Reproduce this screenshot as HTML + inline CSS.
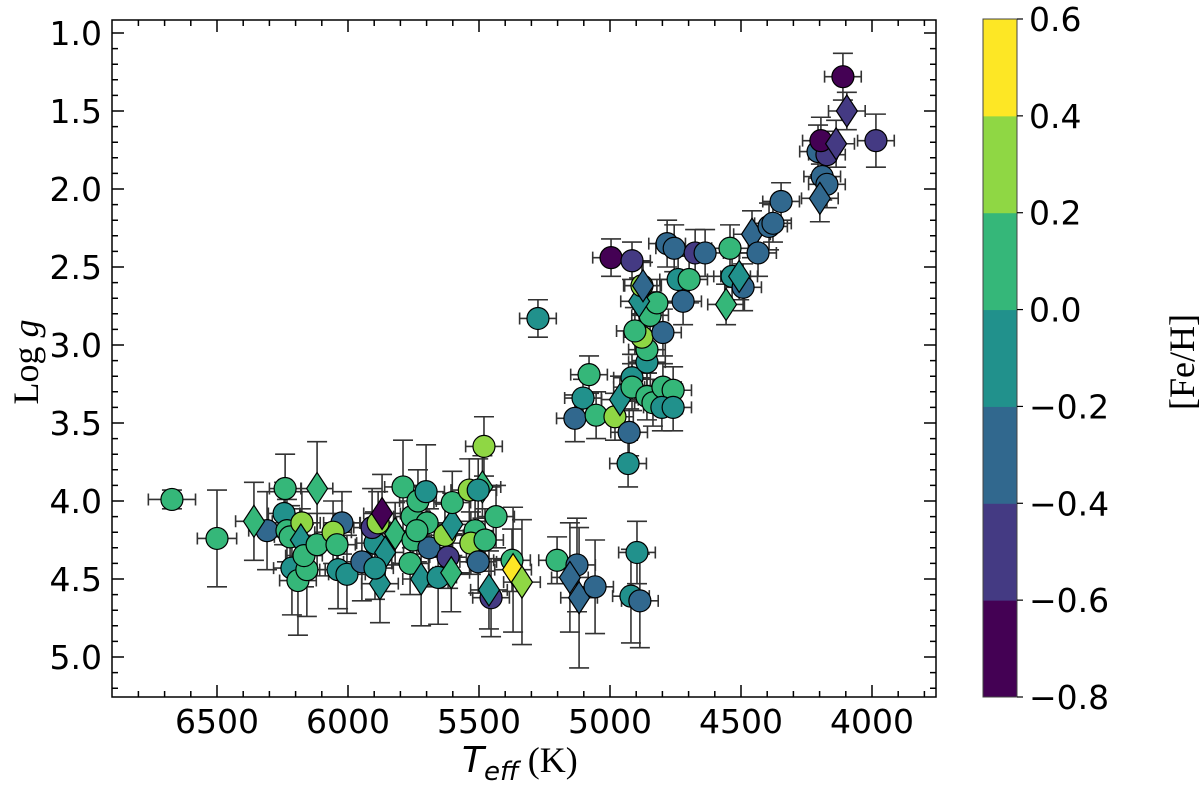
<!DOCTYPE html>
<html><head><meta charset="utf-8"><style>
html,body{margin:0;padding:0;background:#fff;width:1200px;height:785px;overflow:hidden}
svg{display:block}
text{font-family:"DejaVu Sans","Liberation Sans",sans-serif}
</style></head><body>
<svg id="chart" width="1200" height="785" viewBox="0 0 1200 785" xmlns="http://www.w3.org/2000/svg">
<g id="errs"></g>
<g id="marks"></g>
<g id="axes"></g>
<g id="cbar"></g>
<text transform="translate(38,362) rotate(-90)" text-anchor="middle" font-size="36" style="font-family:'Liberation Serif','DejaVu Serif',serif">Log <tspan font-style="italic">g</tspan></text>
<text x="462" y="772" font-size="36"><tspan font-style="italic">T</tspan><tspan font-style="italic" font-size="26" dy="8">eff</tspan><tspan dy="-8" style="font-family:'Liberation Serif','DejaVu Serif',serif"> (K)</tspan></text>
<text transform="translate(1194,362) rotate(-90)" text-anchor="middle" font-size="36" style="font-family:'Liberation Serif','DejaVu Serif',serif">[Fe/H]</text>
</svg>
<script>
const teff=[6672,6500,6309,6359,6240,6244,6233,6221,6176,6214,6191,6157,6180,6168,6118,6118,6023,6057,6042,6038,6004,5947,5897,5908,5885,5870,5858,5878,5897,5820,5790,5756,5733,5702,5752,5763,5698,5691,5737,5630,5618,5721,5656,5606,5602,5602,5537,5487,5503,5481,5435,5515,5531,5477,5503,5454,5462,5374,5370,5336,5202,5275,4996,4916,5080,5103,5134,5053,4981,4962,4927,4931,4916,4916,4859,4836,4798,4759,4802,4759,4859,4859,4878,4905,4798,4847,4821,4889,4878,4874,4721,4740,4698,4782,4755,4675,4637,4542,4458,4393,4435,4534,4492,4507,4557,5126,5153,5118,5057,4897,4920,4886,4111,4096,3985,4206,4172,4195,4137,4190,4172,4199,4347,4378];
const logg=[3.99,4.24,4.19,4.13,3.92,4.08,4.19,4.23,4.14,4.43,4.51,4.44,4.25,4.35,4.28,3.92,4.14,4.20,4.28,4.44,4.47,4.39,4.27,4.17,4.14,4.08,4.33,4.53,4.43,4.21,3.91,4.10,4.00,3.94,4.25,4.40,4.14,4.30,4.19,4.22,4.36,4.50,4.49,4.46,4.15,4.01,3.93,3.91,3.93,3.65,4.10,4.19,4.27,4.25,4.39,4.62,4.57,4.38,4.44,4.52,4.38,2.83,2.44,2.46,3.19,3.34,3.47,3.45,3.46,3.35,3.56,3.76,3.21,3.27,3.33,3.37,3.27,3.29,3.40,3.40,3.11,3.03,2.95,2.91,2.92,2.81,2.73,2.72,2.62,2.62,2.72,2.58,2.58,2.35,2.38,2.41,2.41,2.38,2.29,2.24,2.41,2.56,2.63,2.56,2.74,4.41,4.49,4.62,4.55,4.33,4.61,4.64,1.28,1.50,1.69,1.76,1.78,1.69,1.71,1.92,1.97,2.06,2.08,2.22];
const feh=[0.1,0.1,-0.3,0.1,0.1,-0.1,0.1,0.1,0.3,-0.1,0.1,0.1,-0.1,0.1,0.1,0.1,-0.3,0.3,0.1,-0.1,-0.1,-0.3,-0.1,-0.5,0.3,-0.7,-0.1,-0.1,-0.1,0.1,0.1,0.1,0.1,-0.1,0.1,0.1,0.1,-0.3,0.1,0.3,-0.5,-0.1,-0.1,0.1,-0.1,0.1,0.3,0.1,-0.1,0.3,0.1,0.1,0.3,0.1,-0.3,-0.5,-0.1,0.1,0.5,0.3,0.1,-0.1,-0.7,-0.5,0.1,-0.1,-0.3,0.1,0.3,-0.1,-0.3,-0.1,-0.1,0.1,0.1,0.1,0.1,0.1,-0.1,-0.1,-0.1,0.1,0.3,0.1,-0.3,0.1,0.1,-0.1,0.3,-0.3,-0.3,-0.1,0.1,-0.3,-0.3,-0.5,-0.3,0.1,-0.3,-0.3,-0.3,-0.1,-0.3,-0.1,0.1,-0.3,-0.3,-0.3,-0.3,-0.1,-0.1,-0.3,-0.7,-0.5,-0.5,-0.3,-0.5,-0.7,-0.5,-0.3,-0.3,-0.3,-0.3,-0.3];
const shape=("ooodoooooo"+"oodoodoooo"+"ooooodddod"+"oooooooooo"+"ododdoodoo"+"oooooododd"+"oooooooood"+"oooooooooo"+"ooooooodod"+"oooooooodo"+"oooddoddoo"+"ooodoooodo"+"odoo").split("");
const eT=[90,75,70,70,60,60,60,60,70,70,70,70,70,70,70,60,70,70,70,70,70,70,70,70,70,70,70,70,70,70,70,70,70,70,70,70,70,70,70,70,70,70,70,70,70,70,70,70,70,70,70,70,70,70,70,70,70,70,70,70,70,70,70,70,70,70,70,70,70,70,70,70,70,70,70,70,70,70,70,70,70,70,70,70,70,70,70,70,70,70,70,70,70,70,70,70,70,70,70,70,70,70,70,70,70,70,70,70,70,70,70,70,70,70,70,70,70,70,70,70,70,70,70,70];
const eg=[0.06,0.31,0.25,0.25,0.22,0.2,0.2,0.2,0.2,0.3,0.35,0.3,0.2,0.2,0.2,0.3,0.2,0.2,0.2,0.25,0.25,0.25,0.2,0.25,0.2,0.25,0.25,0.25,0.2,0.2,0.3,0.2,0.2,0.3,0.2,0.2,0.2,0.25,0.2,0.2,0.2,0.3,0.3,0.25,0.2,0.2,0.2,0.2,0.2,0.19,0.2,0.2,0.2,0.2,0.2,0.25,0.25,0.2,0.4,0.4,0.15,0.12,0.12,0.12,0.12,0.12,0.15,0.15,0.15,0.15,0.15,0.15,0.15,0.15,0.15,0.15,0.15,0.15,0.15,0.15,0.15,0.15,0.15,0.15,0.15,0.15,0.15,0.15,0.15,0.15,0.15,0.15,0.15,0.15,0.15,0.15,0.15,0.15,0.15,0.15,0.15,0.15,0.15,0.15,0.13,0.3,0.35,0.45,0.3,0.2,0.3,0.3,0.15,0.12,0.17,0.17,0.15,0.15,0.15,0.15,0.15,0.15,0.12,0.12];
const xTicks=[6500,6000,5500,5000,4500,4000];
const yTicks=[1.0,1.5,2.0,2.5,3.0,3.5,4.0,4.5,5.0];
const cTicks=[0.6,0.4,0.2,0.0,-0.2,-0.4,-0.6,-0.8];
const binColors=["#440154","#443a83","#31688e","#21918c","#35b779","#8fd744","#fde725"];

const NS="http://www.w3.org/2000/svg";
const L=112,R=936,T=20,B=697;
const xs=t=>217+(6500-t)*0.262;
const ys=g=>33+(g-1)*156;
function mk(tag,attrs,parent){const e=document.createElementNS(NS,tag);for(const k in attrs)e.setAttribute(k,attrs[k]);parent.appendChild(e);return e;}
const errs=document.getElementById('errs'),marks=document.getElementById('marks'),axes=document.getElementById('axes'),cbar=document.getElementById('cbar');
const colorOf=f=>binColors[Math.max(0,Math.min(6,Math.floor((f+0.8)/0.2+1e-6)))];
for(let i=0;i<teff.length;i++){
  const x=xs(teff[i]),y=ys(logg[i]);
  const x1=xs(teff[i]+eT[i]),x2=xs(teff[i]-eT[i]),y1=ys(logg[i]-eg[i]),y2=ys(logg[i]+eg[i]);
  const g=mk('g',{stroke:'#333','stroke-width':1.6,fill:'none'},errs);
  
  
  mk('path',{d:`M${x1},${y}H${x2}M${x},${y1}V${y2}M${x1},${y-6}V${y+6}M${x2},${y-6}V${y+6}M${x-10},${y1}H${x+10}M${x-10},${y2}H${x+10}`},g);
}
for(let i=0;i<teff.length;i++){
  const x=xs(teff[i]),y=ys(logg[i]),c=colorOf(feh[i]);
  let el;
  if(shape[i]==='d'){el=mk('path',{d:`M${x},${y-16}L${x+10.5},${y}L${x},${y+16}L${x-10.5},${y}Z`,fill:c,stroke:'#000','stroke-width':1.2},marks);
    }
  else{el=mk('circle',{cx:x,cy:y,r:11,fill:c,stroke:'#000','stroke-width':1.2},marks);
    }
  
}
const fr=mk('rect',{x:L,y:T,width:R-L,height:B-T,fill:'none',stroke:'#000','stroke-width':1.5},axes);


let tp='';
for(let t=6800;t>=3800;t-=100){const x=xs(t);if(x<L||x>R)continue;const len=(t%500===0)?12:6;tp+=`M${x},${B}v${-len}M${x},${T}v${len}`;}
for(let g=0.9;g<=5.25;g+=0.1){const gg=Math.round(g*10)/10;const y=ys(gg);if(y<T||y>B)continue;const len=(Math.round(gg*10)%5===0)?12:6;tp+=`M${L},${y}h${len}M${R},${y}h${-len}`;}
const tk=mk('path',{d:tp,stroke:'#000','stroke-width':1.5,fill:'none'},axes);


xTicks.forEach(t=>{const e=mk('text',{x:xs(t),y:B+36,'text-anchor':'middle','font-size':33},axes);e.textContent=String(t);
  
  });
yTicks.forEach(g=>{const e=mk('text',{x:L-10,y:ys(g)+12,'text-anchor':'end','font-size':33},axes);e.textContent=g.toFixed(1);
  
  });
const CL=983,CR=1017,CT=19,CB=697;
const cy=v=>CT+(0.6-v)/1.4*(CB-CT);
for(let k=0;k<7;k++){const lo=-0.8+k*0.2;const r=mk('rect',{x:CL,y:cy(lo+0.2),width:CR-CL,height:cy(lo)-cy(lo+0.2)+0.5,fill:binColors[k]},cbar);
  
  }
const cf=mk('rect',{x:CL,y:CT,width:CR-CL,height:CB-CT,fill:'none',stroke:'#444','stroke-width':1},cbar);


cTicks.forEach(v=>{const y=cy(v);mk('path',{d:`M${CR},${y}h6`,stroke:'#000','stroke-width':1.2},cbar);
  const e=mk('text',{x:1029,y:y+12,'font-size':33},cbar);e.textContent=(v<0?'\u2212':'')+Math.abs(v).toFixed(1);
  
  });
</script>
</body></html>
